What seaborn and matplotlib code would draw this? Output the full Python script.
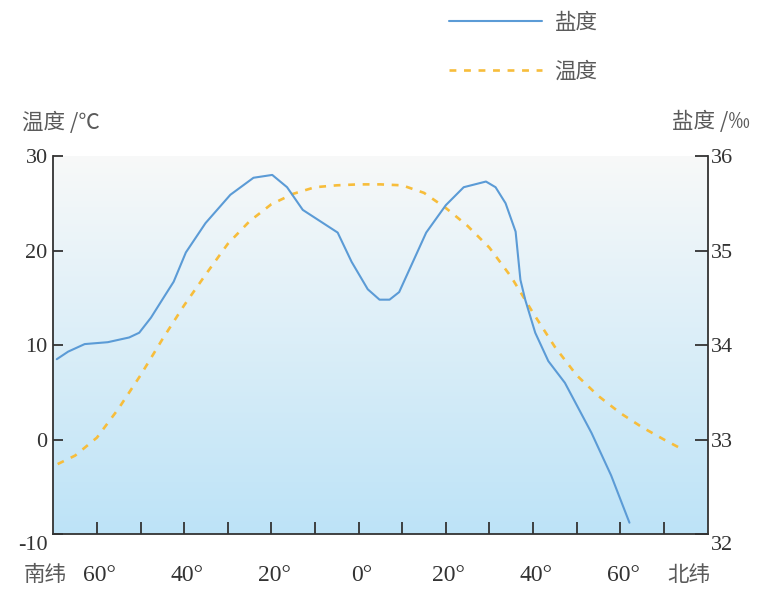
import matplotlib
matplotlib.use("Agg")
import numpy as np
import pandas as pd
import matplotlib.pyplot as plt
import matplotlib.transforms as mtransforms
import seaborn as sns

# ---------------- data ----------------
temp_lat = [-69, -65, -60, -55, -50, -45, -40, -35, -30, -25, -20, -15, -10, -5,
            0, 5, 10, 15, 20, 25, 30, 35, 40, 45, 50, 55, 60, 65, 70, 74.5]
temp_c = [-2.6, -1.7, 0.2, 3.3, 6.8, 10.6, 14.2, 17.5, 20.7, 23.1, 24.9, 26.0, 26.7, 26.9,
          27.0, 27.0, 26.9, 26.1, 24.5, 22.6, 20.3, 17.2, 13.4, 9.8, 6.8, 4.6, 2.8, 1.3, 0.0, -1.1]

sal_lat = [-69.2, -66.6, -62.8, -57.5, -52.6, -50.3, -47.6, -44.6, -42.4, -39.6, -35.1,
           -29.4, -24.1, -19.8, -16.4, -12.8, -4.8, -1.6, 2.1, 4.8, 7.1, 9.3, 15.5, 20.0,
           24.1, 29.2, 31.4, 33.7, 36.0, 37.1, 38.2, 40.5, 43.5, 47.3, 53.4, 57.9, 62.1]
sal_permil = [33.85, 33.93, 34.01, 34.03, 34.08, 34.13, 34.29, 34.51, 34.67, 34.98, 35.29,
              35.59, 35.77, 35.80, 35.67, 35.43, 35.19, 34.88, 34.59, 34.48, 34.48, 34.56, 35.19, 35.48,
              35.67, 35.73, 35.67, 35.50, 35.20, 34.69, 34.48, 34.13, 33.83, 33.60, 33.07, 32.62, 32.12]

xtick_pos = list(range(-60, 71, 10))
xtick_labels = ["60°", "", "40°", "", "20°", "", "0°", "", "20°", "", "40°", "", "60°", ""]
temp_ticks = [-10, 0, 10, 20, 30]
sal_ticks = [32, 33, 34, 35, 36]
legend_labels = ["盐度", "温度"]
left_label = "温度 /℃"
right_label = "盐度 /‰"
south_label = "南纬"
north_label = "北纬"

# ---------------- style ----------------
sns.set_theme(style="white")
plt.rcParams["font.family"] = ["Noto Sans CJK SC", "DejaVu Sans"]
plt.rcParams["axes.unicode_minus"] = False

BLUE = "#5b9bd6"
ORANGE = "#f7bd3b"
SPINE = "#333333"
TEXT = "#5a5a5a"
NUM = "#333333"

fig = plt.figure(figsize=(7.58, 5.91), dpi=100)
ax = fig.add_axes([0.0703, 0.0964, 0.8631, 0.6396])
ax2 = ax.twinx()

# gradient background
grad = np.linspace(0, 1, 256).reshape(-1, 1)
top = np.array([0xf8, 0xf9, 0xf9]) / 255
bot = np.array([0xbd, 0xe3, 0xf7]) / 255
img = top[None, None, :] * (1 - grad[:, :, None]) + bot[None, None, :] * grad[:, :, None]
ax.imshow(img, extent=[-70, 80, -10, 30], aspect="auto", zorder=0, origin="upper")

df_t = pd.DataFrame({"lat": temp_lat, "temp": temp_c})
df_s = pd.DataFrame({"lat": sal_lat, "sal": sal_permil})

sns.lineplot(data=df_t, x="lat", y="temp", ax=ax, color=ORANGE, lw=1.9, zorder=3)
tline = ax.lines[-1]
tline.set_dashes((2.6, 2.9))
sns.lineplot(data=df_s, x="lat", y="sal", ax=ax2, color=BLUE, lw=1.5, zorder=3)
sline = ax2.lines[-1]

ax.set_xlim(-70, 80)
ax.set_ylim(-10, 30)
ax2.set_ylim(32, 36)
ax.set_xlabel("")
ax.set_ylabel("")
ax2.set_ylabel("")
ax.grid(False)
ax2.grid(False)

for sp in ["top", "right"]:
    ax.spines[sp].set_visible(False)
for sp in ["top", "left", "bottom"]:
    ax2.spines[sp].set_visible(False)
for sp in ["left", "bottom"]:
    ax.spines[sp].set_color(SPINE)
    ax.spines[sp].set_linewidth(1.3)
ax2.spines["right"].set_color(SPINE)
ax2.spines["right"].set_linewidth(1.3)

ax.set_yticks(temp_ticks)
ax.set_yticklabels([str(v) for v in temp_ticks], fontfamily="Liberation Serif",
                   fontsize=16, color=NUM)
ax2.set_yticks(sal_ticks)
ax2.set_yticklabels([str(v) for v in sal_ticks], fontfamily="Liberation Serif",
                    fontsize=16, color=NUM)
ax.set_xticks(xtick_pos)
ax.set_xticklabels(xtick_labels, fontfamily="Liberation Serif", fontsize=17, color=NUM)

ax.tick_params(axis="y", direction="in", length=7.5, width=1.3, color=SPINE, pad=4.0, left=True)
ax2.tick_params(axis="y", direction="in", length=9.5, width=1.3, color=SPINE, pad=2.5, right=True)
ax.tick_params(axis="x", direction="in", length=8.5, width=1.3, color=SPINE, pad=22, bottom=True)

# bottom labels (-10 and 32) sit a little lower than their ticks
off = mtransforms.ScaledTranslation(0, -0.085, fig.dpi_scale_trans)
t0 = ax.yaxis.get_major_ticks()[0]
t0.label1.set_transform(t0.label1.get_transform() + off)
s0 = ax2.yaxis.get_major_ticks()[0]
s0.label2.set_transform(s0.label2.get_transform() + off)
xoff = mtransforms.ScaledTranslation(0.03, 0, fig.dpi_scale_trans)
for tk in ax.xaxis.get_major_ticks():
    tk.label1.set_transform(tk.label1.get_transform() + xoff)

# axis titles and hemisphere labels
fig.text(22 / 758, 1 - 123 / 591, left_label, ha="left", va="center", fontsize=15.5, color=TEXT)
fig.text(750 / 758, 1 - 122 / 591, right_label, ha="right", va="center", fontsize=15.5, color=TEXT)
fig.text(45 / 758, 1 - 575 / 591, south_label, ha="center", va="center", fontsize=15.5, color=TEXT)
fig.text(689 / 758, 1 - 575 / 591, north_label, ha="center", va="center", fontsize=15.5, color=TEXT)

# legend
leg = fig.legend([sline, tline], legend_labels, loc="upper left",
                 bbox_to_anchor=(449 / 758, 1 - 12 / 591), frameon=False,
                 fontsize=15.5, handlelength=4.3, handletextpad=0.6,
                 labelspacing=1.25, borderpad=0, borderaxespad=0)
for t in leg.get_texts():
    t.set_color(TEXT)

fig.savefig("out.png", dpi=100)
